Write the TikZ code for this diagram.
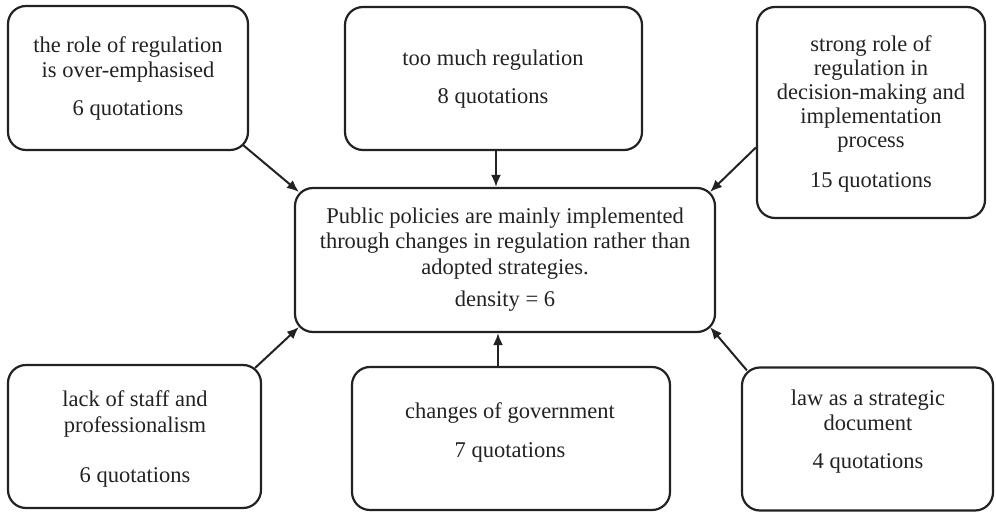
\documentclass[tikz,border=0pt]{standalone}
\usepackage{fontspec}
\setmainfont{Liberation Serif}
\usetikzlibrary{arrows.meta,calc}
\definecolor{ink}{HTML}{222222}
\begin{document}
\begin{tikzpicture}[x=1pt,y=-1pt,
  box/.style={draw=ink, line width=2.2pt, rounded corners=18pt, inner sep=0pt},
  txt/.style={font=\fontsize{22.5}{25.5}\selectfont, align=center, text=ink, inner sep=0pt},
  arr/.style={draw=ink, line width=2pt, -{Latex[length=12pt,width=10pt]}}]
\useasboundingbox (0,0) rectangle (996,513);
% boxes
\node[box, minimum width=240pt, minimum height=144pt] (tl) at (128,78) {};
\node[box, minimum width=297pt, minimum height=143pt] (tc) at (493.5,78.5) {};
\node[box, minimum width=228pt, minimum height=211pt] (tr) at (871,112.5) {};
\node[box, minimum width=420pt, minimum height=144pt] (c) at (505,260) {};
\node[box, minimum width=253pt, minimum height=143pt] (bl) at (134.5,436.5) {};
\node[box, minimum width=318pt, minimum height=143pt] (bc) at (511,438.5) {};
\node[box, minimum width=251pt, minimum height=143pt] (br) at (867.5,439) {};
% texts
\node[txt] (tlt) at (128,78.5) {the role of regulation\\is over-emphasised\\[12.5pt]6 quotations};
\node[txt] (tct) at (493,79) {too much regulation\\[12.5pt]8 quotations};
\node[txt, font=\fontsize{22.5}{24}\selectfont] (trt) at (871,113.5) {strong role of\\regulation in\\decision-making and\\implementation\\process\\[16pt]15 quotations};
\node[txt] (ct) at (505,259.5) {Public policies are mainly implemented\\through changes in regulation rather than\\adopted strategies.\\[7pt]density = 6};
\node[txt] (blt) at (135,439) {lack of staff and\\professionalism\\[25pt]6 quotations};
\node[txt] (bct) at (510,432.5) {changes of government\\[13.5pt]7 quotations};
\node[txt] (brt) at (868,431.5) {law as a strategic\\document\\[12.5pt]4 quotations};
% connectors
\draw[arr] ([shift={(-6,-6)}]tl.south east) -- ([shift={(5,5)}]c.north west);
\draw[arr] ([xshift=2.5pt]tc.south) -- ([xshift=2.5pt]tc.south |- c.north);
\draw[arr] ([shift={(0,35)}]tr.west) -- ([shift={(-6,5)}]c.north east);
\draw[arr] ([shift={(-7,4)}]bl.north east) -- ([shift={(5,-6)}]c.south west);
\draw[arr] ([xshift=-13pt]bc.north) -- ([xshift=-13pt]bc.north |- c.south);
\draw[arr] ([shift={(6,4)}]br.north west) -- ([shift={(-6,-6)}]c.south east);
\end{tikzpicture}
\end{document}
